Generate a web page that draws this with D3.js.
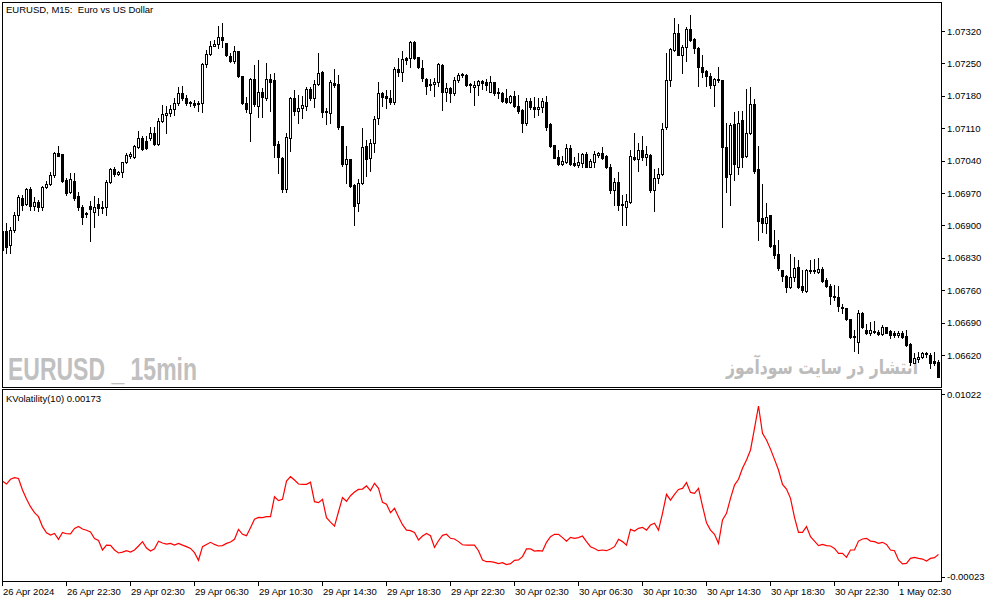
<!DOCTYPE html>
<html>
<head>
<meta charset="utf-8">
<script src="https://cdn.jsdelivr.net/npm/d3@7"></script>
<style>
  body { margin: 0; background: #fff; }
  svg { display: block; }
</style>
</head>
<body>
<svg id="chart" width="994" height="603"></svg>
<script>
// chart texts
var symbolTitle = "EURUSD, M15:  Euro vs US Dollar";
var indicatorTitle = "KVolatility(10) 0.00173";
var watermarkLeft = "EURUSD _ 15min";
var watermarkRight = "انتشار در سایت سودآموز";

// axis ticks
var priceTicks = [1.07320, 1.07250, 1.07180, 1.07110, 1.07040, 1.06970, 1.06900, 1.06830, 1.06760, 1.06690, 1.06620];
var kvolTicks = [0.01022, -0.00023];
var timeTickBars = [0, 16, 32, 48, 64, 80, 96, 112, 128, 144, 160, 176, 192, 208, 224];
var timeLabels = ["26 Apr 2024", "26 Apr 22:30", "29 Apr 02:30", "29 Apr 06:30", "29 Apr 10:30",
  "29 Apr 14:30", "29 Apr 18:30", "29 Apr 22:30", "30 Apr 02:30", "30 Apr 06:30",
  "30 Apr 10:30", "30 Apr 14:30", "30 Apr 18:30", "30 Apr 22:30", "1 May 02:30"];

// M15 bars
var open = [
  1.06888,1.06888,1.06858,1.06890,1.06923,1.06959,1.06946,1.06979,1.06942,1.06951,
  1.06940,1.06983,1.06990,1.07009,1.07057,1.07054,1.06998,1.06972,1.06996,1.06964,
  1.06940,1.06927,1.06942,1.06929,1.06946,1.06938,1.06940,1.06994,1.07022,1.07011,
  1.07015,1.07037,1.07050,1.07048,1.07069,1.07089,1.07082,1.07089,1.07100,1.07076,
  1.07126,1.07139,1.07143,1.07152,1.07165,1.07186,1.07175,1.07167,1.07165,1.07162,
  1.07165,1.07249,1.07270,1.07288,1.07292,1.07307,1.07294,1.07266,1.07255,1.07277,
  1.07223,1.07165,1.07143,1.07216,1.07158,1.07188,1.07175,1.07216,1.07214,1.07076,
  1.07046,1.06979,1.07089,1.07175,1.07147,1.07154,1.07158,1.07195,1.07175,1.07206,
  1.07231,1.07147,1.07143,1.07208,1.07206,1.07115,1.07033,1.07044,1.06987,1.06949,
  1.06992,1.07072,1.07046,1.07078,1.07132,1.07186,1.07180,1.07175,1.07167,1.07238,
  1.07231,1.07262,1.07262,1.07296,1.07264,1.07240,1.07216,1.07206,1.07206,1.07210,
  1.07247,1.07188,1.07197,1.07186,1.07214,1.07225,1.07225,1.07206,1.07199,1.07203,
  1.07212,1.07210,1.07188,1.07210,1.07188,1.07186,1.07175,1.07167,1.07180,1.07158,
  1.07149,1.07121,1.07169,1.07156,1.07152,1.07156,1.07167,1.07119,1.07074,1.07048,
  1.07033,1.07037,1.07067,1.07035,1.07031,1.07035,1.07054,1.07026,1.07037,1.07052,
  1.07057,1.07050,1.07026,1.06977,1.06994,1.06946,1.06940,1.06951,1.07048,1.07044,
  1.07063,1.07048,1.07052,1.06977,1.07003,1.07011,1.07113,1.07214,1.07279,1.07316,
  1.07268,1.07285,1.07324,1.07303,1.07283,1.07242,1.07234,1.07223,1.07203,1.07214,
  1.07214,1.07069,1.07011,1.07119,1.07026,1.07128,1.07050,1.07100,1.07162,1.07022,
  1.06916,1.06905,1.06923,1.06858,1.06838,1.06804,1.06791,1.06767,1.06789,1.06810,
  1.06769,1.06758,1.06802,1.06804,1.06799,1.06806,1.06782,1.06769,1.06748,1.06745,
  1.06724,1.06722,1.06698,1.06661,1.06648,1.06711,1.06674,1.06668,1.06670,1.06670,
  1.06666,1.06681,1.06672,1.06668,1.06663,1.06668,1.06661,1.06644,1.06603,1.06612,
  1.06616,1.06622,1.06620,1.06607,1.06605
];
var high = [
  1.06901,1.06905,1.06897,1.06929,1.06966,1.06966,1.06981,1.06983,1.06961,1.06955,
  1.06985,1.06996,1.07015,1.07059,1.07072,1.07054,1.07003,1.07013,1.07013,1.06972,
  1.06944,1.06929,1.06953,1.06964,1.06959,1.06953,1.06998,1.07024,1.07026,1.07018,
  1.07037,1.07057,1.07059,1.07074,1.07104,1.07093,1.07093,1.07113,1.07113,1.07132,
  1.07160,1.07158,1.07160,1.07175,1.07199,1.07201,1.07182,1.07169,1.07171,1.07169,
  1.07251,1.07279,1.07298,1.07301,1.07331,1.07337,1.07294,1.07272,1.07288,1.07277,
  1.07223,1.07177,1.07219,1.07247,1.07257,1.07197,1.07251,1.07227,1.07229,1.07082,
  1.07048,1.07100,1.07177,1.07193,1.07182,1.07180,1.07199,1.07199,1.07214,1.07272,
  1.07234,1.07154,1.07214,1.07238,1.07225,1.07115,1.07072,1.07044,1.06990,1.07000,
  1.07111,1.07085,1.07087,1.07136,1.07210,1.07188,1.07193,1.07193,1.07242,1.07262,
  1.07277,1.07264,1.07298,1.07298,1.07264,1.07257,1.07219,1.07216,1.07219,1.07251,
  1.07249,1.07208,1.07199,1.07221,1.07229,1.07229,1.07227,1.07208,1.07212,1.07214,
  1.07214,1.07216,1.07223,1.07210,1.07197,1.07188,1.07195,1.07182,1.07190,1.07182,
  1.07152,1.07175,1.07175,1.07177,1.07175,1.07175,1.07180,1.07121,1.07074,1.07063,
  1.07050,1.07076,1.07074,1.07048,1.07057,1.07057,1.07059,1.07044,1.07061,1.07059,
  1.07069,1.07052,1.07033,1.07003,1.07015,1.06966,1.06968,1.07063,1.07100,1.07078,
  1.07093,1.07072,1.07054,1.07022,1.07024,1.07121,1.07272,1.07283,1.07348,1.07335,
  1.07290,1.07329,1.07355,1.07305,1.07285,1.07268,1.07236,1.07229,1.07219,1.07242,
  1.07214,1.07121,1.07121,1.07145,1.07147,1.07147,1.07195,1.07199,1.07173,1.07072,
  1.06990,1.06949,1.06923,1.06890,1.06869,1.06804,1.06793,1.06838,1.06832,1.06825,
  1.06804,1.06806,1.06825,1.06828,1.06830,1.06810,1.06787,1.06774,1.06771,1.06769,
  1.06730,1.06722,1.06698,1.06674,1.06717,1.06713,1.06687,1.06691,1.06694,1.06674,
  1.06685,1.06681,1.06674,1.06672,1.06672,1.06672,1.06674,1.06646,1.06625,1.06627,
  1.06627,1.06627,1.06625,1.06627,1.06609
];
var low = [
  1.06787,1.06841,1.06841,1.06886,1.06912,1.06933,1.06944,1.06933,1.06933,1.06931,
  1.06933,1.06981,1.06987,1.07005,1.07050,1.06994,1.06966,1.06970,1.06955,1.06933,
  1.06903,1.06918,1.06866,1.06897,1.06923,1.06927,1.06923,1.06992,1.07007,1.07009,
  1.07005,1.07035,1.07046,1.07046,1.07067,1.07063,1.07065,1.07085,1.07074,1.07074,
  1.07123,1.07100,1.07136,1.07139,1.07160,1.07171,1.07160,1.07158,1.07156,1.07147,
  1.07145,1.07242,1.07268,1.07288,1.07283,1.07285,1.07266,1.07253,1.07251,1.07221,
  1.07162,1.07145,1.07082,1.07158,1.07134,1.07134,1.07171,1.07147,1.07048,1.07013,
  1.06972,1.06972,1.07061,1.07139,1.07121,1.07132,1.07149,1.07171,1.07156,1.07203,
  1.07134,1.07119,1.07121,1.07199,1.07108,1.07028,1.06992,1.06983,1.06901,1.06931,
  1.06990,1.07007,1.07018,1.07059,1.07119,1.07158,1.07154,1.07162,1.07162,1.07223,
  1.07212,1.07249,1.07242,1.07260,1.07240,1.07212,1.07184,1.07193,1.07180,1.07201,
  1.07149,1.07169,1.07167,1.07182,1.07210,1.07221,1.07201,1.07188,1.07160,1.07182,
  1.07195,1.07193,1.07188,1.07182,1.07175,1.07167,1.07165,1.07165,1.07156,1.07143,
  1.07102,1.07117,1.07152,1.07134,1.07139,1.07145,1.07106,1.07069,1.07046,1.07031,
  1.07031,1.07035,1.07031,1.07028,1.07026,1.07026,1.07026,1.07026,1.07026,1.07048,
  1.07044,1.07024,1.06970,1.06944,1.06933,1.06901,1.06901,1.06949,1.07041,1.07018,
  1.07041,1.07031,1.06972,1.06931,1.06992,1.07009,1.07108,1.07201,1.07277,1.07268,
  1.07229,1.07255,1.07298,1.07272,1.07201,1.07221,1.07201,1.07197,1.07158,1.07210,
  1.06897,1.06972,1.06944,1.06998,1.07011,1.07026,1.07048,1.07098,1.07013,1.06869,
  1.06886,1.06884,1.06853,1.06830,1.06804,1.06780,1.06756,1.06765,1.06780,1.06765,
  1.06756,1.06756,1.06797,1.06797,1.06797,1.06778,1.06767,1.06730,1.06739,1.06715,
  1.06711,1.06696,1.06657,1.06629,1.06625,1.06679,1.06666,1.06663,1.06668,1.06663,
  1.06663,1.06668,1.06657,1.06659,1.06659,1.06657,1.06640,1.06599,1.06603,1.06605,
  1.06614,1.06616,1.06592,1.06599,1.06573
];
var close = [
  1.06847,1.06853,1.06890,1.06923,1.06961,1.06944,1.06979,1.06942,1.06951,1.06940,
  1.06983,1.06990,1.07009,1.07057,1.07050,1.06996,1.06970,1.07000,1.06959,1.06940,
  1.06918,1.06925,1.06936,1.06940,1.06938,1.06940,1.06994,1.07022,1.07011,1.07015,
  1.07037,1.07052,1.07054,1.07072,1.07089,1.07065,1.07067,1.07100,1.07076,1.07126,
  1.07141,1.07143,1.07152,1.07165,1.07186,1.07175,1.07165,1.07165,1.07160,1.07165,
  1.07249,1.07270,1.07288,1.07292,1.07307,1.07301,1.07268,1.07255,1.07277,1.07223,
  1.07165,1.07152,1.07216,1.07162,1.07188,1.07177,1.07216,1.07210,1.07074,1.07048,
  1.06979,1.07091,1.07175,1.07147,1.07154,1.07160,1.07195,1.07175,1.07206,1.07229,
  1.07145,1.07145,1.07210,1.07203,1.07113,1.07033,1.07044,1.06985,1.06942,1.06992,
  1.07069,1.07044,1.07078,1.07130,1.07186,1.07177,1.07175,1.07167,1.07238,1.07231,
  1.07260,1.07257,1.07296,1.07262,1.07242,1.07219,1.07201,1.07203,1.07210,1.07249,
  1.07188,1.07197,1.07186,1.07214,1.07225,1.07227,1.07203,1.07203,1.07203,1.07212,
  1.07208,1.07203,1.07210,1.07186,1.07186,1.07169,1.07167,1.07180,1.07158,1.07147,
  1.07121,1.07169,1.07156,1.07152,1.07156,1.07169,1.07113,1.07072,1.07046,1.07033,
  1.07039,1.07067,1.07033,1.07031,1.07037,1.07054,1.07026,1.07039,1.07054,1.07057,
  1.07046,1.07026,1.06977,1.06994,1.06944,1.06944,1.06953,1.07050,1.07044,1.07063,
  1.07048,1.07054,1.06977,1.07003,1.07011,1.07108,1.07214,1.07281,1.07316,1.07268,
  1.07285,1.07324,1.07301,1.07283,1.07242,1.07231,1.07223,1.07203,1.07216,1.07216,
  1.07069,1.07005,1.07117,1.07033,1.07121,1.07048,1.07100,1.07162,1.07018,1.06910,
  1.06905,1.06918,1.06856,1.06836,1.06808,1.06791,1.06767,1.06789,1.06808,1.06767,
  1.06761,1.06804,1.06804,1.06802,1.06806,1.06780,1.06769,1.06748,1.06745,1.06726,
  1.06722,1.06698,1.06659,1.06659,1.06711,1.06681,1.06668,1.06674,1.06672,1.06666,
  1.06681,1.06668,1.06663,1.06663,1.06668,1.06659,1.06642,1.06605,1.06614,1.06616,
  1.06625,1.06625,1.06603,1.06603,1.06573
];

// KVolatility(10) per bar
var kvol = [
  0.00525,0.00508,0.00535,0.00544,0.00540,0.00474,0.00422,0.00378,0.00344,0.00321,
  0.00264,0.00229,0.00216,0.00225,0.00191,0.00231,0.00223,0.00222,0.00254,0.00265,
  0.00250,0.00243,0.00233,0.00195,0.00185,0.00130,0.00158,0.00157,0.00130,0.00113,
  0.00118,0.00126,0.00118,0.00130,0.00153,0.00178,0.00141,0.00124,0.00137,0.00180,
  0.00170,0.00164,0.00168,0.00158,0.00168,0.00158,0.00149,0.00139,0.00115,0.00071,
  0.00149,0.00162,0.00174,0.00162,0.00153,0.00155,0.00168,0.00176,0.00191,0.00248,
  0.00220,0.00212,0.00258,0.00306,0.00317,0.00315,0.00321,0.00321,0.00435,0.00413,
  0.00420,0.00525,0.00550,0.00531,0.00508,0.00506,0.00506,0.00518,0.00407,0.00401,
  0.00420,0.00315,0.00290,0.00267,0.00349,0.00430,0.00409,0.00441,0.00462,0.00477,
  0.00479,0.00497,0.00470,0.00512,0.00483,0.00403,0.00392,0.00344,0.00369,0.00321,
  0.00275,0.00244,0.00241,0.00231,0.00187,0.00210,0.00225,0.00212,0.00145,0.00183,
  0.00214,0.00220,0.00197,0.00193,0.00178,0.00160,0.00158,0.00158,0.00158,0.00126,
  0.00073,0.00063,0.00063,0.00059,0.00052,0.00057,0.00046,0.00052,0.00071,0.00073,
  0.00092,0.00136,0.00136,0.00124,0.00126,0.00124,0.00174,0.00206,0.00220,0.00220,
  0.00201,0.00181,0.00202,0.00197,0.00201,0.00210,0.00178,0.00149,0.00139,0.00126,
  0.00130,0.00126,0.00136,0.00149,0.00191,0.00178,0.00158,0.00248,0.00239,0.00254,
  0.00260,0.00244,0.00273,0.00283,0.00244,0.00340,0.00449,0.00416,0.00449,0.00477,
  0.00483,0.00516,0.00460,0.00455,0.00483,0.00382,0.00286,0.00244,0.00220,0.00168,
  0.00302,0.00340,0.00426,0.00502,0.00535,0.00598,0.00646,0.00703,0.00827,0.00955,
  0.00798,0.00760,0.00708,0.00649,0.00588,0.00506,0.00479,0.00426,0.00317,0.00231,
  0.00231,0.00264,0.00206,0.00181,0.00155,0.00162,0.00155,0.00153,0.00139,0.00111,
  0.00111,0.00088,0.00130,0.00130,0.00181,0.00193,0.00197,0.00181,0.00178,0.00168,
  0.00174,0.00162,0.00130,0.00126,0.00073,0.00050,0.00053,0.00082,0.00088,0.00082,
  0.00078,0.00067,0.00082,0.00086,0.00105
];

var fontFamily = "'Liberation Sans', Arial, sans-serif";

var plotLeft = 2, plotRight = 941;
var mainTop = 2, mainBottom = 387;
var subTop = 389, subBottom = 581;

var svg = d3.select("#chart");

var x = d3.scaleLinear().domain([0, open.length - 1]).range([2, 938]);
var yP = d3.scaleLinear().domain([1.06620, 1.07320]).range([355, 31]);
var yK = d3.scaleLinear().domain([-0.00023, 0.01022]).range([576.7, 394.3]);

var defs = svg.append("defs");
defs.append("clipPath").attr("id", "clipMain")
  .append("rect")
    .attr("x", plotLeft + 1).attr("y", mainTop + 1)
    .attr("width", plotRight - plotLeft - 1).attr("height", mainBottom - mainTop - 1);
defs.append("clipPath").attr("id", "clipSub")
  .append("rect")
    .attr("x", plotLeft + 1).attr("y", subTop + 1)
    .attr("width", plotRight - plotLeft - 1).attr("height", subBottom - subTop - 1);

// watermarks (behind the bars)
svg.append("text")
    .attr("x", 8)
    .attr("y", 380)
    .attr("font-family", "'Liberation Sans Narrow', 'Liberation Sans', Arial, sans-serif")
    .attr("font-weight", "bold")
    .attr("font-size", 32)
    .attr("textLength", 189)
    .attr("lengthAdjust", "spacingAndGlyphs")
    .attr("fill", "#c0c0c0")
    .style("white-space", "pre")
    .text(watermarkLeft);

svg.append("text")
    .attr("transform", "translate(918,374) scale(0.78,1)")
    .attr("text-anchor", "end")
    .attr("font-family", "'DejaVu Sans', sans-serif")
    .attr("font-weight", "bold")
    .attr("font-size", 20)
    .attr("fill", "#bcbcbc")
    .text(watermarkRight);

// candles
var bars = d3.range(open.length).map(function(i) {
  return {i: i, o: open[i], h: high[i], l: low[i], c: close[i]};
});

var cg = svg.append("g")
    .attr("clip-path", "url(#clipMain)")
    .attr("shape-rendering", "crispEdges");

cg.selectAll("line.wick")
  .data(bars)
  .enter().append("line")
    .attr("class", "wick")
    .attr("x1", function(d) { return x(d.i) + 0.5; })
    .attr("x2", function(d) { return x(d.i) + 0.5; })
    .attr("y1", function(d) { return Math.round(yP(d.h)); })
    .attr("y2", function(d) { return Math.round(yP(d.l)) + 1; })
    .attr("stroke", "#000")
    .attr("stroke-width", 1);

function bodyTop(d) { return Math.round(yP(Math.max(d.o, d.c))); }
function bodyBot(d) { return Math.round(yP(Math.min(d.o, d.c))); }

// bear bodies and flat bodies are filled
cg.selectAll("rect.bear")
  .data(bars.filter(function(d) { return d.c < d.o || bodyBot(d) === bodyTop(d); }))
  .enter().append("rect")
    .attr("class", "bear")
    .attr("x", function(d) { return x(d.i) - 1; })
    .attr("width", 3)
    .attr("y", bodyTop)
    .attr("height", function(d) { return bodyBot(d) - bodyTop(d) + 1; })
    .attr("fill", "#000");

// bull bodies are hollow
cg.selectAll("rect.bull")
  .data(bars.filter(function(d) { return d.c >= d.o && bodyBot(d) > bodyTop(d); }))
  .enter().append("rect")
    .attr("class", "bull")
    .attr("x", function(d) { return x(d.i) - 0.5; })
    .attr("width", 2)
    .attr("y", function(d) { return bodyTop(d) + 0.5; })
    .attr("height", function(d) { return bodyBot(d) - bodyTop(d); })
    .attr("fill", "#fff")
    .attr("stroke", "#000")
    .attr("stroke-width", 1);

// indicator line
var line = d3.line()
    .x(function(d, i) { return x(i) + 0.5; })
    .y(function(d) { return yK(d); });

svg.append("path")
    .datum(kvol)
    .attr("clip-path", "url(#clipSub)")
    .attr("d", line)
    .attr("fill", "none")
    .attr("stroke", "#ff0000")
    .attr("stroke-width", 1.2);

// frames
var frames = svg.append("g")
    .attr("fill", "none")
    .attr("stroke", "#000")
    .attr("shape-rendering", "crispEdges");

frames.append("rect")
    .attr("x", plotLeft + 0.5).attr("y", mainTop + 0.5)
    .attr("width", plotRight - plotLeft).attr("height", mainBottom - mainTop);
frames.append("rect")
    .attr("x", plotLeft + 0.5).attr("y", subTop + 0.5)
    .attr("width", plotRight - plotLeft).attr("height", subBottom - subTop);

// price axis
svg.append("g")
    .attr("transform", "translate(" + plotRight + ",0)")
    .attr("shape-rendering", "crispEdges")
    .call(d3.axisRight(yP)
      .tickValues(priceTicks)
      .tickSize(4)
      .tickPadding(2)
      .tickFormat(function(d) { return d.toFixed(5); }))
    .call(function(g) { g.select(".domain").remove(); })
    .attr("font-family", fontFamily)
    .attr("font-size", 9.5)
    .attr("color", "#000");

// indicator axis
svg.append("g")
    .attr("transform", "translate(" + plotRight + ",0)")
    .attr("shape-rendering", "crispEdges")
    .call(d3.axisRight(yK)
      .tickValues(kvolTicks)
      .tickSize(4)
      .tickPadding(2)
      .tickFormat(function(d) { return d.toFixed(5); }))
    .call(function(g) { g.select(".domain").remove(); })
    .attr("font-family", fontFamily)
    .attr("font-size", 9.5)
    .attr("color", "#000");

// time axis
var timeAxis = svg.append("g")
    .attr("transform", "translate(0," + (subBottom + 1) + ")")
    .attr("shape-rendering", "crispEdges")
    .call(d3.axisBottom(x)
      .tickValues(timeTickBars)
      .tickSize(4)
      .tickFormat(function(d, k) { return timeLabels[k]; }))
    .call(function(g) { g.select(".domain").remove(); })
    .attr("font-family", fontFamily)
    .attr("font-size", 9.5)
    .attr("color", "#000");

timeAxis.selectAll("text")
    .attr("text-anchor", "start")
    .attr("x", 0.5)
    .attr("y", 12.5)
    .attr("dy", null);

// titles
svg.append("text")
    .attr("x", 6)
    .attr("y", 13)
    .attr("font-family", fontFamily)
    .attr("font-size", 9.5)
    .attr("fill", "#000")
    .style("white-space", "pre")
    .text(symbolTitle);

svg.append("text")
    .attr("x", 6)
    .attr("y", 401.5)
    .attr("font-family", fontFamily)
    .attr("font-size", 9.5)
    .attr("fill", "#000")
    .text(indicatorTitle);
</script>
</body>
</html>
